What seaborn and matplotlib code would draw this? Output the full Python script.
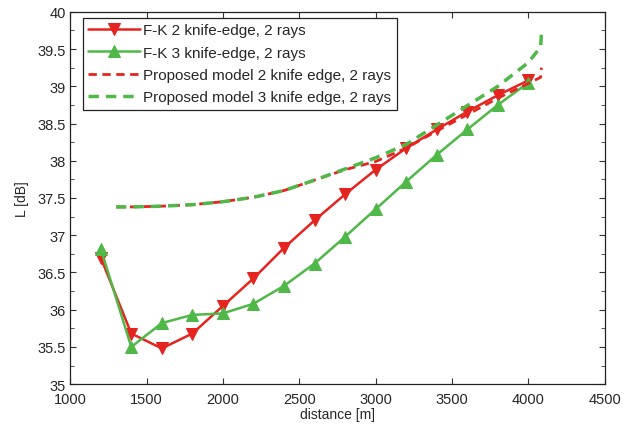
import numpy as np
import pandas as pd
import matplotlib
matplotlib.use("Agg")
import matplotlib.pyplot as plt
import seaborn as sb
from matplotlib.ticker import MultipleLocator

# F-K models, markers every 200 m
fk_dist = [1200, 1400, 1600, 1800, 2000, 2200, 2400, 2600, 2800, 3000, 3200, 3400, 3600, 3800, 4000]
fk2_L = [36.70, 35.68, 35.48, 35.68, 36.05, 36.42, 36.83, 37.20, 37.55, 37.88, 38.17, 38.42, 38.66, 38.88, 39.08]
fk3_L = [36.82, 35.50, 35.82, 35.93, 35.95, 36.08, 36.32, 36.62, 36.98, 37.35, 37.72, 38.08, 38.42, 38.75, 39.05]

# proposed model curves
pm_dist = [1300, 1400, 1600, 1800, 2000, 2200, 2400, 2600, 2800, 3000, 3200, 3400, 3600, 3800, 4000, 4080, 4085]
pm2_L = [37.38, 37.38, 37.39, 37.41, 37.45, 37.51, 37.60, 37.74, 37.88, 37.99, 38.17, 38.40, 38.62, 38.84, 39.04, 39.12, 39.25]
pm3_L = [37.38, 37.38, 37.39, 37.41, 37.45, 37.51, 37.60, 37.74, 37.89, 38.04, 38.22, 38.48, 38.74, 39.00, 39.32, 39.53, 39.72]

labels = ["F-K 2 knife-edge, 2 rays", "F-K 3 knife-edge, 2 rays",
          "Proposed model 2 knife edge, 2 rays", "Proposed model 3 knife edge, 2 rays"]

red = "#e52420"
green = "#4fb848"

sb.set_style("ticks")
plt.rcParams['font.family'] = ['Liberation Sans', 'DejaVu Sans']

fig = plt.figure(figsize=(6.32, 4.27), dpi=100)
ax = fig.add_axes([0.111, 0.098, 0.846, 0.872])

sb.lineplot(x=fk_dist, y=fk2_L, ax=ax, color=red, lw=1.8, marker="v", markersize=9,
            markeredgecolor=red, label=labels[0])
sb.lineplot(x=fk_dist, y=fk3_L, ax=ax, color=green, lw=1.8, marker="^", markersize=9,
            markeredgecolor=green, label=labels[1])
sb.lineplot(x=pm_dist, y=pm2_L, ax=ax, color=red, lw=2.0, dashes=False, label=labels[2])
sb.lineplot(x=pm_dist, y=pm3_L, ax=ax, color=green, lw=2.5, dashes=False, label=labels[3])
ax.lines[2].set_linestyle((0, (3, 2)))
ax.lines[3].set_linestyle((0, (3, 2)))

ax.set_xlim(1000, 4500)
ax.set_ylim(35, 40)
ax.xaxis.set_major_locator(MultipleLocator(500))
ax.yaxis.set_major_locator(MultipleLocator(0.5))
ax.yaxis.set_minor_locator(MultipleLocator(0.25))
ax.yaxis.set_major_formatter(plt.FuncFormatter(lambda v, p: f"{v:g}"))
ax.tick_params(which="both", direction="in", top=True, right=True, labelsize=10.5, color="#333333")
ax.tick_params(which="major", length=4, pad=3)
ax.tick_params(axis="x", pad=5.5)
ax.tick_params(which="minor", length=3)
for s in ax.spines.values():
    s.set_visible(True)
    s.set_linewidth(0.9)
    s.set_color("#222222")

ax.set_xlabel("distance [m]", fontsize=10, labelpad=1)
ax.set_ylabel("L [dB]", fontsize=10, labelpad=6)

leg = ax.legend(loc="upper left", bbox_to_anchor=(0.024, 0.984), borderaxespad=0,
                fontsize=11, frameon=True, fancybox=False, framealpha=1,
                edgecolor="#222222", borderpad=0.35, labelspacing=0.55, handlelength=3.4,
                handletextpad=0.2)
leg.get_frame().set_linewidth(0.9)

fig.savefig("out.png", dpi=100)
